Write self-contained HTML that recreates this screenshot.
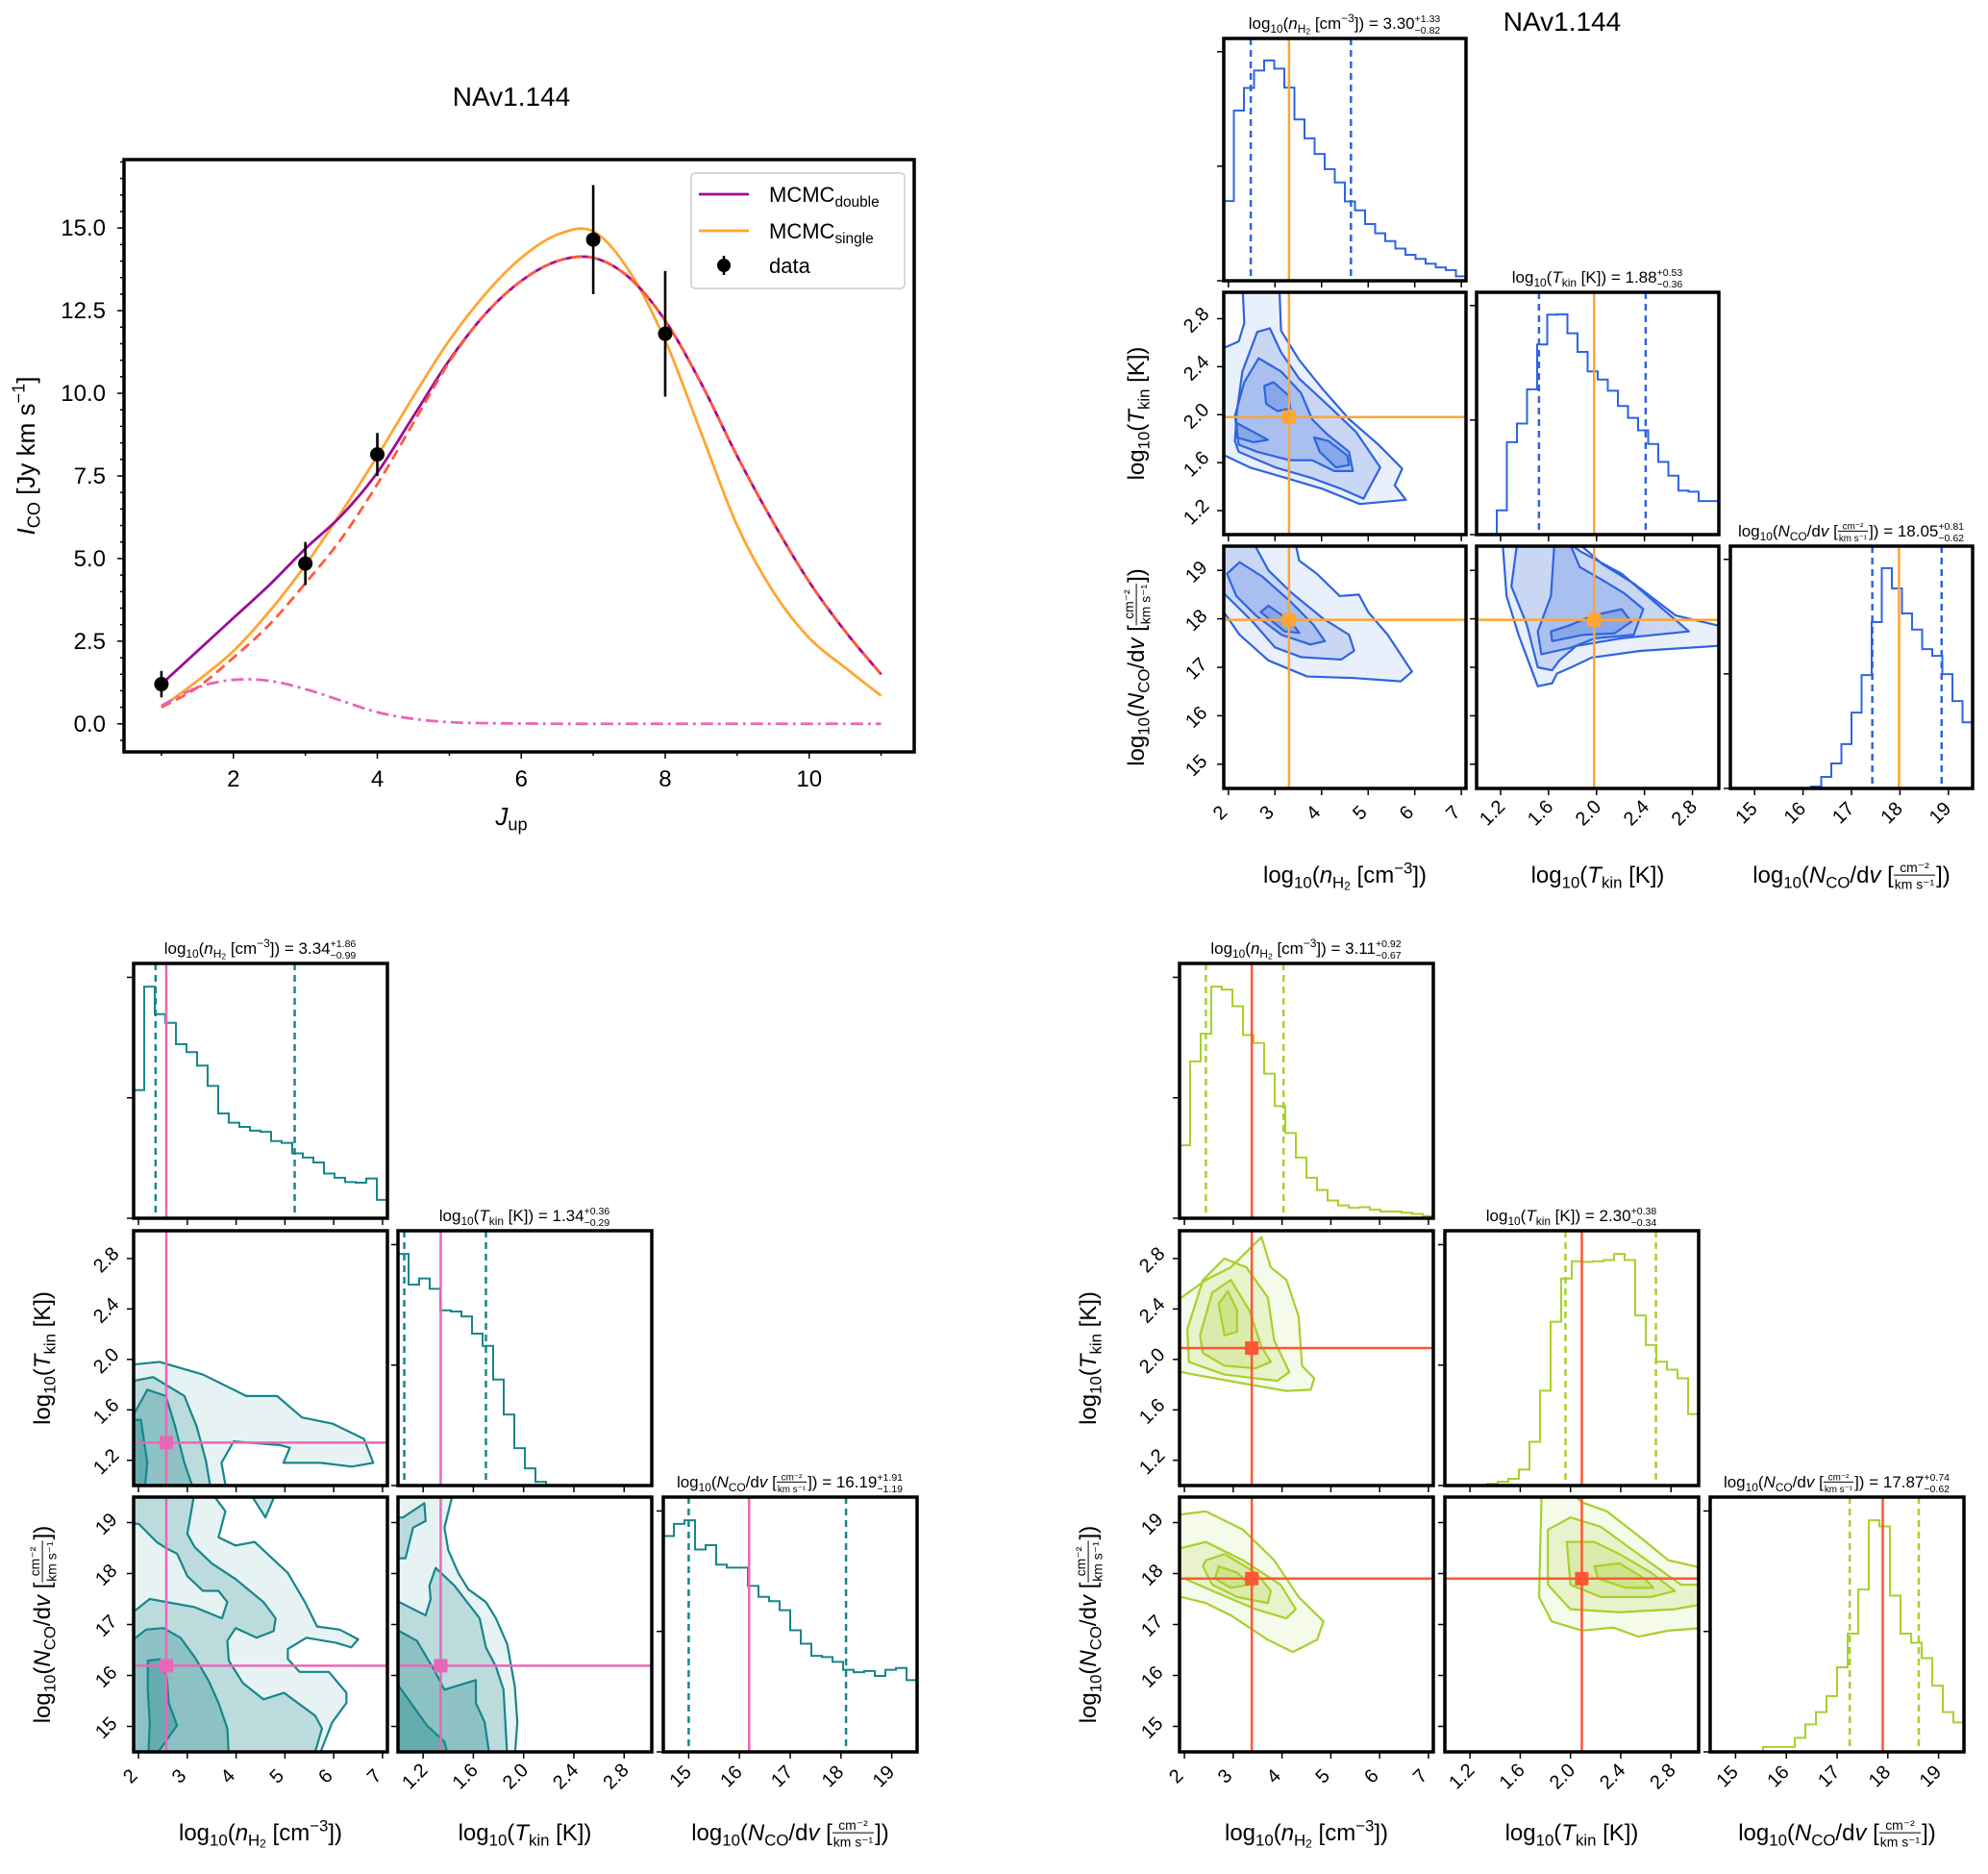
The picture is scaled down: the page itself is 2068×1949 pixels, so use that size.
<!DOCTYPE html>
<html><head><meta charset="utf-8"><style>
html,body{margin:0;padding:0;background:#fff;}
svg{display:block;font-family:"Liberation Sans","DejaVu Sans",sans-serif;}
text{white-space:pre;}
</style></head><body>
<svg id="fig" width="2068" height="1949" viewBox="0 0 2068 1949" xmlns="http://www.w3.org/2000/svg" xml:space="preserve"></svg>
<script>
// ---------- SED data ----------
const jGrid=[1,1.5,2,2.5,3,3.5,4,4.5,5,5.5,6,6.5,7,7.5,8,8.5,9,9.5,10,10.5,11];
const iDouble=[1.2,2.2,3.2,4.2,5.3,6.3,7.6,9.3,11.0,12.4,13.4,14.0,14.1,13.5,12.2,10.3,8.1,6.1,4.3,2.8,1.5];
const iSingle=[0.5,1.3,2.2,3.4,4.8,6.4,8.1,9.9,11.6,13.0,14.1,14.8,14.9,13.7,11.6,8.8,6.0,4.0,2.6,1.7,0.85];
const iWarm=[0.5,1.1,2.0,3.0,4.25,5.6,7.25,9.1,10.95,12.4,13.4,14.0,14.1,13.5,12.2,10.3,8.1,6.1,4.3,2.8,1.5];
const iCold=[0.55,1.1,1.33,1.3,1.05,0.7,0.35,0.15,0.05,0.02,0.01,0,0,0,0,0,0,0,0,0,0];
const dataJ=[1,3,4,7,8];
const dataI=[1.2,4.85,8.15,14.65,11.8];
const dataErr=[0.4,0.65,0.65,1.65,1.9];
const sedXTicks=[2,4,6,8,10];
const sedYTicks=[0,2.5,5,7.5,10,12.5,15];
const sedYTickLabels=['0.0','2.5','5.0','7.5','10.0','12.5','15.0'];
// ---------- corner data ----------
const rangeNH=[1.9,7.1], rangeTK=[1.0,3.02], rangeNC=[14.5,19.5];
const ticksNH=[2,3,4,5,6,7], ticksTK=[1.2,1.6,2.0,2.4,2.8], ticksNC=[15,16,17,18,19];
const ticksTKLabels=['1.2','1.6','2.0','2.4','2.8'];
const trNH=[215,459,520,567,594,572,521,435,384,342,301,265,214,190,153,128,107,87,70,59,46,36,29,12];
const trTK=[0,0,65,248,298,390,510,590,591,540,490,438,416,386,345,313,280,243,195,158,118,115,90,90];
const trNC=[0,0,0,0,0,0,0,0,6,36,78,138,236,353,518,686,623,545,495,434,413,356,272,206];
const blNH=[209,378,333,319,284,271,249,216,171,156,149,143,141,126,123,106,99,91,73,66,59,58,65,30];
const blTK=[378,328,338,321,286,284,276,248,228,173,116,61,28,6,0,0,0,0,0,0,0,0,0,0];
const blNC=[355,375,381,333,340,308,303,303,273,255,248,233,200,178,158,156,148,135,131,133,125,135,138,118];
const brNH=[119,256,301,378,373,346,299,286,236,183,139,99,66,46,29,21,17,18,14,11,11,9,7,4];
const brTK=[0,0,0,0,3,6,11,26,71,154,266,336,364,363,364,366,376,366,276,228,201,188,174,116];
const brNC=[0,0,0,0,0,8,8,8,23,45,65,91,138,193,265,378,368,255,193,178,153,108,65,48];
const trBest=[3.30,1.98,17.98], blBest=[2.57,1.34,16.19], brBest=[3.38,2.09,17.90];
const trDash=[[2.48,4.63],[1.52,2.41],[17.43,18.86]];
const blDash=[[2.35,5.20],[1.05,1.70],[15.0,18.10]];
const brDash=[[2.44,4.03],[1.96,2.68],[17.25,18.61]];
const trVals=[['3.30','+1.33','−0.82'],['1.88','+0.53','−0.36'],['18.05','+0.81','−0.62']];
const blVals=[['3.34','+1.86','−0.99'],['1.34','+0.36','−0.29'],['16.19','+1.91','−1.19']];
const brVals=[['3.11','+0.92','−0.67'],['2.30','+0.38','−0.34'],['17.87','+0.74','−0.62']];
const trC10=[
 [[[1.945,2.563],[2.22,2.61],[2.34,2.763],[2.30,3.1],[3.09,3.1],[3.13,2.70],[3.52,2.455],[4.03,2.21],[4.59,1.963],[5.22,1.75],[5.73,1.55],[5.57,1.41],[5.81,1.29],[4.82,1.255],[4.03,1.38],[3.25,1.47],[2.46,1.56],[1.945,1.655],[1.8,1.655],[1.8,2.563]]],
 [[[2.14,1.78],[2.18,2.02],[2.30,2.36],[2.62,2.69],[2.89,2.72],[3.13,2.52],[3.52,2.30],[4.19,2.06],[4.74,1.855],[5.26,1.56],[4.90,1.30],[4.43,1.38],[3.80,1.47],[3.01,1.56],[2.22,1.69]]],
 [[[2.14,1.99],[2.34,2.27],[2.65,2.47],[3.13,2.36],[3.56,2.18],[3.80,1.96],[4.11,1.84],[4.59,1.69],[4.67,1.53],[4.27,1.53],[3.80,1.62],[3.32,1.62],[2.62,1.69],[2.22,1.75]]],
 [[[2.77,2.24],[2.97,2.27],[3.29,2.16],[3.33,2.05],[3.05,2.03],[2.81,2.09]],[[3.84,1.81],[4.15,1.78],[4.55,1.66],[4.59,1.58],[4.31,1.56],[3.96,1.69]],[[2.18,1.93],[2.85,1.79],[2.54,1.77],[2.18,1.81]]]
];
const trC20=[
 [[[1.8,18.10],[1.93,18.10],[2.24,17.67],[2.86,17.14],[3.69,16.81],[4.66,16.78],[5.70,16.71],[5.94,16.91],[5.42,17.67],[5.0,18.14],[4.80,18.50],[4.39,18.47],[3.90,18.93],[3.52,19.2],[3.43,19.6],[1.8,19.6]]],
 [[[1.8,18.5],[1.93,18.50],[2.52,17.94],[3.0,17.41],[3.56,17.21],[4.42,17.16],[4.70,17.34],[4.59,17.67],[4.04,18.0],[3.35,18.54],[2.86,19.0],[2.52,19.6],[1.8,19.6]]],
 [[[1.97,18.93],[2.24,19.17],[2.73,18.87],[3.35,18.34],[3.83,17.87],[4.07,17.54],[3.76,17.47],[3.14,17.67],[2.59,18.07],[2.17,18.47]]],
 [[[2.69,18.14],[2.86,18.27],[3.35,17.94],[3.52,17.71],[3.21,17.74]]]
];
const trC21=[
 [[[1.22,19.6],[1.22,19.47],[1.25,18.47],[1.35,17.67],[1.43,17.14],[1.51,16.61],[1.63,16.67],[1.67,16.87],[1.79,17.0],[1.96,17.2],[2.37,17.34],[3.0,17.44],[3.1,17.44],[3.1,17.87],[3.0,17.87],[2.66,18.07],[2.31,18.73],[2.05,19.13],[1.83,19.6]]],
 [[[1.34,19.6],[1.29,18.67],[1.42,17.87],[1.51,17.0],[1.63,16.94],[1.69,17.14],[1.83,17.44],[2.21,17.6],[2.77,17.74],[2.52,18.27],[2.21,18.93],[1.86,19.4],[1.75,19.6]]],
 [[[1.65,19.6],[1.62,18.47],[1.51,17.74],[1.54,17.27],[1.78,17.4],[1.99,17.6],[2.31,17.67],[2.39,18.2],[2.23,18.53],[2.05,18.8],[1.86,19.07],[1.77,19.6]]],
 [[[1.62,17.74],[1.78,17.87],[1.97,18.07],[2.21,18.2],[2.29,17.94],[2.15,17.7],[1.89,17.67],[1.63,17.54]]]
];
const blC10=[
 [[[1.8,1.96],[1.90,1.96],[2.43,1.98],[3.32,1.88],[4.21,1.71],[4.84,1.71],[5.35,1.54],[5.98,1.49],[6.62,1.37],[6.81,1.18],[6.37,1.15],[5.73,1.18],[4.97,1.18],[5.10,1.30],[4.91,1.32],[3.95,1.35],[3.70,1.18],[3.83,0.9],[1.8,0.9]]],
 [[[1.8,1.83],[1.90,1.83],[2.30,1.86],[2.94,1.71],[3.19,1.47],[3.38,1.20],[3.51,0.9],[1.8,0.9]]],
 [[[1.8,1.56],[1.90,1.56],[2.18,1.76],[2.56,1.71],[2.75,1.47],[2.94,1.18],[3.19,0.9],[1.8,0.9]]],
 [[[1.8,1.52],[2.05,1.52],[2.18,1.18],[2.11,0.9],[1.8,0.9]]]
];
const blC20=[
 [[[3.58,19.6],[3.58,19.48],[3.78,19.22],[3.64,18.71],[3.99,18.55],[4.38,18.62],[5.06,18.01],[5.41,17.44],[5.66,16.96],[6.12,16.90],[6.50,16.71],[6.36,16.55],[6.05,16.64],[5.44,16.74],[5.06,16.52],[5.06,16.32],[5.30,16.07],[5.90,16.07],[6.26,15.66],[6.26,15.46],[5.97,15.08],[5.69,14.4],[1.8,14.4],[1.8,19.6]]],
 [[[3.15,19.6],[3.0,18.78],[3.15,18.52],[3.50,18.2],[3.99,17.89],[4.56,17.44],[4.81,17.12],[4.77,16.87],[4.42,16.74],[3.99,16.93],[3.82,16.68],[3.85,16.29],[4.14,15.85],[4.56,15.53],[4.98,15.66],[5.62,15.21],[5.76,14.96],[5.59,14.4],[1.8,14.4],[1.8,19.6]],
  [[1.8,17.28],[1.94,17.28],[2.23,17.50],[3.15,17.34],[3.71,17.12],[3.82,17.44],[3.64,17.66],[3.32,17.66],[3.0,17.95],[2.79,18.39],[2.58,18.49],[2.37,18.62],[2.01,18.97],[1.8,19.0]],
  [[4.35,19.6],[4.35,19.48],[4.60,19.1],[4.77,19.48],[4.77,19.6]]],
 [[[1.8,16.74],[1.94,16.74],[2.16,16.90],[2.51,16.93],[2.86,16.74],[3.15,16.36],[3.43,15.91],[3.64,15.46],[3.82,14.96],[3.85,14.4],[1.8,14.4]]],
 [[[2.19,16.29],[2.44,16.32],[2.58,15.97],[2.62,15.46],[2.79,15.02],[2.65,14.83],[2.33,14.4],[2.2,14.4],[2.23,15.08],[2.19,15.72]]]
];
const blC21=[
 [[[1.44,19.6],[1.37,18.90],[1.40,18.46],[1.48,18.01],[1.56,17.69],[1.70,17.44],[1.78,17.12],[1.87,16.61],[1.93,15.78],[1.95,15.08],[1.93,14.4],[0.9,14.4],[0.9,19.6]]],
 [[[0.9,17.44],[1.01,17.44],[1.22,17.18],[1.26,17.50],[1.25,17.76],[1.30,18.11],[1.45,17.76],[1.65,17.12],[1.70,16.55],[1.78,16.17],[1.84,15.72],[1.87,14.4],[0.9,14.4]],
  [[0.9,19.1],[1.04,19.10],[1.21,19.38],[1.22,19.03],[1.12,18.9],[1.06,18.3],[0.9,18.3]]],
 [[[0.9,16.87],[1.01,16.87],[1.15,16.68],[1.29,16.10],[1.37,15.72],[1.62,15.91],[1.62,15.46],[1.69,15.08],[1.73,14.4],[0.9,14.4]]],
 [[[0.9,15.78],[1.01,15.78],[1.12,15.40],[1.23,15.02],[1.37,14.70],[1.40,14.4],[0.9,14.4]]]
];
const brC10=[
 [[[1.8,1.90],[1.8,2.49],[1.94,2.49],[2.44,2.63],[2.95,2.73],[3.58,2.97],[3.77,2.73],[4.09,2.63],[4.34,2.34],[4.41,1.95],[4.66,1.85],[4.59,1.76],[4.09,1.75],[3.20,1.81],[2.19,1.88],[1.94,1.90]]],
 [[[2.06,2.24],[2.38,2.63],[2.82,2.80],[3.27,2.73],[3.71,2.49],[3.84,2.15],[4.15,1.90],[3.90,1.83],[2.82,1.88],[2.09,1.98]]],
 [[[2.32,2.19],[2.57,2.53],[2.95,2.63],[3.33,2.39],[3.58,2.10],[3.77,1.98],[3.46,1.93],[2.82,1.95],[2.38,2.05]]],
 [[[2.70,2.44],[2.89,2.54],[3.08,2.39],[3.08,2.22],[2.82,2.19]]]
];
const brC20=[
 [[[1.8,17.54],[1.8,19.16],[1.94,19.16],[2.44,19.22],[3.20,18.86],[3.84,18.26],[4.34,17.54],[4.85,17.06],[4.72,16.70],[4.22,16.46],[3.71,16.70],[2.95,17.18],[2.44,17.42],[1.94,17.54]]],
 [[[1.8,17.9],[1.8,18.5],[1.94,18.50],[2.44,18.62],[3.20,18.26],[3.97,17.78],[4.28,17.30],[4.09,17.12],[3.46,17.30],[2.57,17.66],[2.0,17.90]]],
 [[[2.44,18.26],[2.82,18.38],[3.46,18.02],[3.77,17.66],[3.71,17.42],[3.08,17.54],[2.57,17.78],[2.38,18.14]]],
 [[[2.70,18.14],[3.08,18.02],[3.33,17.78],[2.95,17.72],[2.63,17.90]]]
];
const brC21=[
 [[[1.77,19.6],[1.75,17.54],[1.85,17.06],[2.09,16.88],[2.34,16.94],[2.54,16.76],[2.78,16.88],[3.1,16.94],[3.1,18.08],[2.78,18.26],[2.54,18.74],[2.29,19.22],[2.09,19.40],[2.0,19.6]]],
 [[[1.82,18.86],[1.82,17.78],[2.00,17.30],[2.39,17.24],[2.83,17.30],[3.1,17.42],[3.1,17.78],[2.88,17.78],[2.54,18.38],[2.24,18.92],[2.00,19.10]]],
 [[[1.97,18.62],[2.00,17.78],[2.24,17.54],[2.64,17.54],[2.83,17.66],[2.64,18.02],[2.39,18.38],[2.19,18.62]]],
 [[[2.19,18.14],[2.39,18.20],[2.59,17.90],[2.66,17.72],[2.44,17.72],[2.22,17.90]]]
];

const NS='http://www.w3.org/2000/svg';
const svg=document.getElementById('fig');
function mk(tag,attrs,parent){const e=document.createElementNS(NS,tag);for(const k in attrs)e.setAttribute(k,attrs[k]);(parent||svg).appendChild(e);return e;}
function lin(a,b,p,q){return v=>p+(v-a)/(b-a)*(q-p);}
function smooth(pts){let d='M'+pts[0][0]+','+pts[0][1];for(let i=0;i<pts.length-1;i++){const p0=pts[Math.max(0,i-1)],p1=pts[i],p2=pts[i+1],p3=pts[Math.min(pts.length-1,i+2)];const c1=[p1[0]+(p2[0]-p0[0])/6,p1[1]+(p2[1]-p0[1])/6],c2=[p2[0]-(p3[0]-p1[0])/6,p2[1]-(p3[1]-p1[1])/6];d+=`C${c1[0]},${c1[1]} ${c2[0]},${c2[1]} ${p2[0]},${p2[1]}`;}return d;}
function txt(g,x,y,s,fs,it,anchor){const t=mk('text',{x:x,y:y,'font-size':fs,fill:'#000'},g);if(it)t.setAttribute('font-style','italic');if(anchor)t.setAttribute('text-anchor',anchor);t.textContent=s;return t;}
function rich(parent,x,y,parts,size,anchor,rot){
  const g=mk('g',{},parent);let cx=0;
  for(const p of parts){
    if(p.st){const a=txt(g,cx,-0.4*size,p.st[0],size*0.62);const b=txt(g,cx,0.3*size,p.st[1],size*0.62);cx+=Math.max(a.getComputedTextLength(),b.getComputedTextLength())+1;continue;}
    if(p.fr){const fs=size*0.58;const a=txt(g,0,-0.45*size,p.fr[0],fs,false,'middle');const b=txt(g,0,0.28*size,p.fr[1],fs,false,'middle');const w=Math.max(a.getComputedTextLength(),b.getComputedTextLength())+2;a.setAttribute('x',cx+w/2);b.setAttribute('x',cx+w/2);mk('line',{x1:cx,x2:cx+w,y1:-0.33*size,y2:-0.33*size,stroke:'#000','stroke-width':1},g);cx+=w+1;continue;}
    const lv=p.lv||0;const fs=lv===0?size:(lv===-2?size*0.5:size*0.7);const dy=lv===1?-0.4*size:(lv===-1?0.22*size:(lv===-2?0.32*size:0));
    const t=txt(g,cx,dy,p.t,fs,p.it);cx+=t.getComputedTextLength();
  }
  const off=anchor==='middle'?-cx/2:(anchor==='end'?-cx:0);
  g.setAttribute('transform',`translate(${x},${y}) rotate(${rot||0}) translate(${off},0)`);
  return g;
}

// ================= SED panel =================
(function(){
  const L=129,T=166,R=951,B=782;
  const X=lin(0.48,11.46,L,R), Y=lin(-0.85,17.07,B,T);
  const g=mk('g',{});
  
  
  const title=txt(g,532,110,'NAv1.144',28,false,'middle');
  
  
  const clip=mk('clipPath',{id:'sedclip'},g);mk('rect',{x:L,y:T,width:R-L,height:B-T},clip);
  const lines=mk('g',{'clip-path':'url(#sedclip)',fill:'none'},g);
  const series=[[iSingle,'#ffa530',null,'single-fit-line'],[iDouble,'#9c0c96',null,'double-fit-line'],[iWarm,'#ff5a3c','11,6','warm-component-line'],[iCold,'#e866b8','13,5,3,5','cold-component-line']];
  for(const s of series){
    const pts=jGrid.map((j,k)=>[X(j),Y(s[0][k])]);
    const p=mk('path',{d:smooth(pts),stroke:s[1],'stroke-width':2.8},lines);
    if(s[2])p.setAttribute('stroke-dasharray',s[2]);
    
    
  }
  for(let k=0;k<dataJ.length;k++){
    const e=mk('line',{x1:X(dataJ[k]),x2:X(dataJ[k]),y1:Y(dataI[k]-dataErr[k]),y2:Y(dataI[k]+dataErr[k]),stroke:'#000','stroke-width':2.6},g);
    
    
    const c=mk('circle',{cx:X(dataJ[k]),cy:Y(dataI[k]),r:7.5,fill:'#000'},g);
    
    
  }
  const frame=mk('rect',{x:L,y:T,width:R-L,height:B-T,fill:'none',stroke:'#000','stroke-width':3.5},g);
  
  
  for(let j=1;j<=11;j++){mk('line',{x1:X(j),x2:X(j),y1:B,y2:B+(j%2===0?7:4),stroke:'#000','stroke-width':1.5},g);}
  for(const t of sedXTicks){const tl=txt(g,X(t),818,String(t),24,false,'middle');}
  for(let v=-0.5;v<=17.01;v+=0.5){mk('line',{x1:L,x2:L-(Math.abs(v/2.5-Math.round(v/2.5))<1e-6?7:4),y1:Y(v),y2:Y(v),stroke:'#000','stroke-width':1.5},g);}
  sedYTicks.forEach((v,k)=>{const tl=txt(g,110,Y(v)+8,sedYTickLabels[k],24,false,'end');});
  const xl=rich(g,532,858,[{t:'J',it:1},{t:'up',lv:-1}],26,'middle');
  
  
  const yl=rich(g,36,474,[{t:'I',it:1},{t:'CO',lv:-1},{t:' [Jy km s'},{t:'−1',lv:1},{t:']'}],26,'middle',-90);
  
  
  const lg=mk('g',{},g);
  
  
  mk('rect',{x:719,y:180,width:222,height:120,rx:4,fill:'#fff',stroke:'#ccc','stroke-width':1.5},lg);
  const le=[['#9c0c96','double',202],['#ffa530','single',240]];
  for(const e of le){
    const en=mk('g',{},lg);
    
    
    mk('line',{x1:727,x2:779,y1:e[2],y2:e[2],stroke:e[0],'stroke-width':2.8},en);
    rich(en,800,e[2]+8,[{t:'MCMC'},{t:e[1],lv:-1}],22);
  }
  const ed=mk('g',{},lg);
  
  
  mk('circle',{cx:753,cy:276,r:7,fill:'#000'},ed);
  mk('line',{x1:753,x2:753,y1:266,y2:286,stroke:'#000','stroke-width':2.5},ed);
  txt(ed,800,284,'data',22);
})();

// ================= Corner plots =================
function labelParts(k){
  if(k===0)return [{t:'log'},{t:'10',lv:-1},{t:'('},{t:'n',it:1},{t:'H',lv:-1},{t:'2',lv:-2},{t:'\u00a0[cm'},{t:'−3',lv:1},{t:'])'}];
  if(k===1)return [{t:'log'},{t:'10',lv:-1},{t:'('},{t:'T',it:1},{t:'kin',lv:-1},{t:'\u00a0[K])'}];
  return [{t:'log'},{t:'10',lv:-1},{t:'('},{t:'N',it:1},{t:'CO',lv:-1},{t:'/d'},{t:'v',it:1},{t:'\u00a0['},{fr:['cm⁻²','km s⁻¹']},{t:'])'}];
}
function corner(name,cols,rows,w,h,hists,dashes,best,vals,conts,col,rgb,alphas,bestCol,xlY,ylX){
  const G=mk('g',{});
  
  
  const ranges=[rangeNH,rangeTK,rangeNC], ticks=[ticksNH,ticksTK,ticksNC];
  const tlabels=[ticksNH.map(String),ticksTKLabels,ticksNC.map(String)];
  for(let i=0;i<3;i++){for(let j=0;j<=i;j++){
    const x0=cols[j],y0=rows[i];
    const P=mk('g',{},G);
    
    
    const X=lin(ranges[j][0],ranges[j][1],x0,x0+w);
    const cid=`${name}c${i}${j}`;const cp=mk('clipPath',{id:cid},P);mk('rect',{x:x0,y:y0,width:w,height:h},cp);
    const inner=mk('g',{'clip-path':`url(#${cid})`},P);
    if(i===j){
      const counts=hists[i];const mx=Math.max(...counts)*1.1;const Y=lin(0,mx,y0+h,y0);
      const n=counts.length,bw=(ranges[i][1]-ranges[i][0])/n;
      let d='M'+X(ranges[i][0])+','+Y(counts[0]);
      for(let k=0;k<n;k++){d+='H'+X(ranges[i][0]+(k+1)*bw);if(k<n-1)d+='V'+Y(counts[k+1]);}
      const hp=mk('path',{d:d,fill:'none',stroke:col,'stroke-width':2},inner);
      
      
      for(const q of dashes[i]){const l=mk('line',{x1:X(q),x2:X(q),y1:y0,y2:y0+h,stroke:col,'stroke-width':2.5,'stroke-dasharray':'7,5'},inner);}
      const bl=mk('line',{x1:X(best[i]),x2:X(best[i]),y1:y0,y2:y0+h,stroke:bestCol,'stroke-width':2.5},inner);
      
      
      const mxv=Math.max(...counts);
      for(const f of [0,0.52,1.04]){mk('line',{x1:x0,x2:x0-7,y1:Y(f*mxv),y2:Y(f*mxv),stroke:'#000','stroke-width':1.5},P);}
      const tt=rich(P,x0+w/2,y0-10,labelParts(i).concat([{t:'\u00a0=\u00a0'+vals[i][0]},{st:[vals[i][1],vals[i][2]]}]),17,'middle');
      
      
    } else {
      const Y=lin(ranges[i][0],ranges[i][1],y0+h,y0);
      const levels=conts[`${i}${j}`];
      levels.forEach((lev,li)=>{
        let d='';for(const ring of lev){d+='M'+ring.map(p=>X(p[0])+','+Y(p[1])).join('L')+'Z';}
        const f=mk('path',{d:d,fill:`rgba(${rgb},${alphas[li]})`,'fill-rule':'evenodd',stroke:col,'stroke-width':2.2,'stroke-linejoin':'round'},inner);
        
        
      });
      const vl=mk('line',{x1:X(best[j]),x2:X(best[j]),y1:y0,y2:y0+h,stroke:bestCol,'stroke-width':2.5},inner);
      
      
      const hl=mk('line',{x1:x0,x2:x0+w,y1:Y(best[i]),y2:Y(best[i]),stroke:bestCol,'stroke-width':2.5},inner);
      
      
      const mkr=mk('rect',{x:X(best[j])-7,y:Y(best[i])-7,width:14,height:14,fill:bestCol},inner);
      
      
      ticks[i].forEach((t,k)=>{mk('line',{x1:x0,x2:x0-7,y1:Y(t),y2:Y(t),stroke:'#000','stroke-width':1.5},P);
        if(j===0){const tl=txt(P,0,0,tlabels[i][k],20,false,'middle');tl.setAttribute('transform',`translate(${x0-24},${Y(t)+6}) rotate(-45)`);}});
    }
    ticks[j].forEach((t,k)=>{mk('line',{x1:X(t),x2:X(t),y1:y0+h,y2:y0+h+7,stroke:'#000','stroke-width':1.5},P);
      if(i===2){const tl=txt(P,0,0,tlabels[j][k],20,false,'middle');tl.setAttribute('transform',`translate(${X(t)-4},${y0+h+30}) rotate(-45)`);}});
    const fr=mk('rect',{x:x0,y:y0,width:w,height:h,fill:'none',stroke:'#000','stroke-width':3.5},P);
    
    
  }}
  for(let k=0;k<3;k++){
    const xl=rich(G,cols[k]+w/2,xlY,labelParts(k),24,'middle');
    
    
  }
  for(let k=1;k<3;k++){
    const yl=rich(G,ylX,rows[k]+h/2,labelParts(k),24,'middle',-90);
    
    
  }
}
corner('corner-top-right',[1273,1536,1800],[40,304,568],252,252,[trNH,trTK,trNC],trDash,trBest,trVals,{'10':trC10,'20':trC20,'21':trC21},'#2f64e0','40,95,215',[0.1,0.16,0.2,0.25],'#ffa533',918,1190);
corner('corner-bottom-left',[139,414,690],[1002,1280,1557],264,265,[blNH,blTK,blNC],blDash,blBest,blVals,{'10':blC10,'20':blC20,'21':blC21},'#17868b','20,128,135',[0.1,0.2,0.28,0.33],'#e868b8',1914,52);
corner('corner-bottom-right',[1227,1503,1779],[1002,1280,1557],264,265,[brNH,brTK,brNC],brDash,brBest,brVals,{'10':brC10,'20':brC20,'21':brC21},'#a8d02c','165,208,45',[0.1,0.16,0.2,0.25],'#ff5733',1914,1140);
const t2=txt(svg,1625,32,'NAv1.144',28,false,'middle');


</script>
</body></html>
